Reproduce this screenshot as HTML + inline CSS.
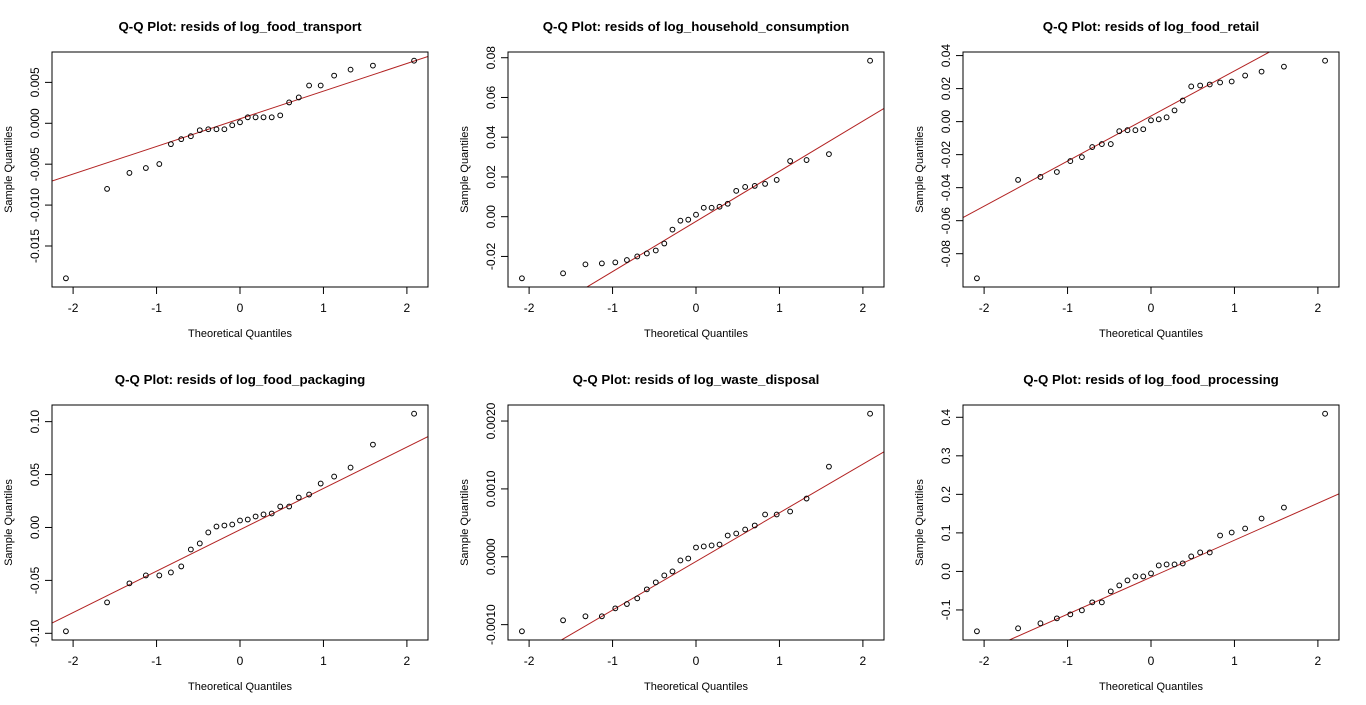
<!DOCTYPE html>
<html><head><meta charset="utf-8"><style>
html,body{margin:0;padding:0;background:#fff;}
svg{display:block;font-family:"Liberation Sans",Arial,sans-serif;}
</style></head><body>
<svg id="chart" width="1366" height="705" viewBox="0 0 1366 705" xmlns="http://www.w3.org/2000/svg"></svg>
<script>
const theoreticalQuantiles = [-2.086,-1.593,-1.325,-1.128,-0.967,-0.828,-0.704,-0.589,-0.482,-0.380,-0.282,-0.187,-0.093,0,0.093,0.187,0.282,0.380,0.482,0.589,0.704,0.828,0.967,1.128,1.325,1.593,2.086];
const xTicks = [-2,-1,0,1,2];
const panelTitles = ["Q-Q Plot: resids of log_food_transport","Q-Q Plot: resids of log_household_consumption","Q-Q Plot: resids of log_food_retail","Q-Q Plot: resids of log_food_packaging","Q-Q Plot: resids of log_waste_disposal","Q-Q Plot: resids of log_food_processing"];
const sampleTransport = [-0.01895,-0.00802,-0.00607,-0.00547,-0.00498,-0.00255,-0.00194,-0.00158,-0.00085,-0.00073,-0.00073,-0.00073,-0.00024,0.00012,0.00073,0.00073,0.00073,0.00073,0.00097,0.00255,0.00316,0.00462,0.00462,0.00583,0.00656,0.00705,0.00765];
const sampleHousehold = [-0.031,-0.0285,-0.024,-0.0235,-0.023,-0.0218,-0.020,-0.0185,-0.017,-0.0135,-0.0065,-0.002,-0.0015,0.001,0.0045,0.0045,0.005,0.0065,0.013,0.015,0.0155,0.0165,0.0185,0.028,0.0285,0.0315,0.0785];
const sampleRetail = [-0.0949,-0.0353,-0.0335,-0.0305,-0.0239,-0.0215,-0.0154,-0.0136,-0.0136,-0.0058,-0.0052,-0.0052,-0.0046,0.0008,0.0014,0.0026,0.0068,0.0128,0.0213,0.0219,0.0225,0.0237,0.0243,0.0279,0.0303,0.0333,0.0369];
const samplePackaging = [-0.0981,-0.0708,-0.0528,-0.0453,-0.0453,-0.0425,-0.0368,-0.0208,-0.0151,-0.0047,0.0009,0.0019,0.0028,0.0066,0.0075,0.0104,0.0123,0.0132,0.0198,0.0198,0.0283,0.0311,0.0415,0.0481,0.0566,0.0783,0.1075];
const sampleWaste = [-0.001098,-0.000936,-0.000877,-0.000877,-0.00076,-0.000696,-0.000613,-0.00048,-0.000377,-0.000275,-0.000216,-0.000054,-0.000025,0.000137,0.000152,0.000167,0.000181,0.000314,0.000343,0.000402,0.000461,0.000623,0.000623,0.000667,0.000858,0.001328,0.002108];
const sampleProcessing = [-0.1554,-0.1477,-0.1347,-0.1218,-0.1114,-0.101,-0.0803,-0.0803,-0.0518,-0.0363,-0.0233,-0.013,-0.013,-0.0052,0.0155,0.0181,0.0181,0.0207,0.0389,0.0492,0.0492,0.0933,0.101,0.1114,0.1373,0.1658,0.4093];
const lineIntercepts = [0.00055,-0.00238,0.0034,-0.0022,-0.0000692,-0.015];
const lineSlopes = [0.00338,0.02525,0.0273,0.0391,0.000717,0.096];
const yTicks1 = [-0.015,-0.010,-0.005,0.000,0.005];
const yTickLabels1 = ["-0.015","-0.010","-0.005","0.000","0.005"];
const yTicks2 = [-0.02,0,0.02,0.04,0.06,0.08];
const yTickLabels2 = ["-0.02","0.00","0.02","0.04","0.06","0.08"];
const yTicks3 = [-0.08,-0.06,-0.04,-0.02,0,0.02,0.04];
const yTickLabels3 = ["-0.08","-0.06","-0.04","-0.02","0.00","0.02","0.04"];
const yTicks4 = [-0.10,-0.05,0,0.05,0.10];
const yTickLabels4 = ["-0.10","-0.05","0.00","0.05","0.10"];
const yTicks5 = [-0.001,0,0.001,0.002];
const yTickLabels5 = ["-0.0010","0.0000","0.0010","0.0020"];
const yTicks6 = [-0.1,0,0.1,0.2,0.3,0.4];
const yTickLabels6 = ["-0.1","0.0","0.1","0.2","0.3","0.4"];

const samples=[sampleTransport,sampleHousehold,sampleRetail,samplePackaging,sampleWaste,sampleProcessing];
const yTickSets=[yTicks1,yTicks2,yTicks3,yTicks4,yTicks5,yTicks6];
const yLabelSets=[yTickLabels1,yTickLabels2,yTickLabels3,yTickLabels4,yTickLabels5,yTickLabels6];
const NS="http://www.w3.org/2000/svg";
const svg=document.getElementById('chart');
function mk(tag,attrs,parent){const e=document.createElementNS(NS,tag);for(const k in attrs)e.setAttribute(k,attrs[k]);parent.appendChild(e);return e;}
const colX=[52,508,963], rowY=[52,405], W=376, H=235;
for(let p=0;p<6;p++){
  const L=colX[p%3], T=rowY[Math.floor(p/3)], R=L+W, B=T+H;
  const g=mk('g',{},svg);
  
  
  const xs=theoreticalQuantiles, ys=samples[p];
  const xmin=Math.min(...xs),xmax=Math.max(...xs),ymin=Math.min(...ys),ymax=Math.max(...ys);
  const xe=(xmax-xmin)*0.04, ye=(ymax-ymin)*0.04;
  const x0=xmin-xe,x1=xmax+xe,y0=ymin-ye,y1=ymax+ye;
  const sx=v=>L+(v-x0)/(x1-x0)*W, sy=v=>B-(v-y0)/(y1-y0)*H;
  const t=mk('text',{x:L+W/2,y:T-21,'text-anchor':'middle','font-size':'13.3','font-weight':'bold',fill:'#000'},g);
  t.textContent=panelTitles[p];
  
  
  // reference line clipped
  const cid='clip'+p;
  const cp=mk('clipPath',{id:cid},g); mk('rect',{x:L,y:T,width:W,height:H},cp);
  const ln=mk('line',{x1:sx(x0),y1:sy(lineIntercepts[p]+lineSlopes[p]*x0),x2:sx(x1),y2:sy(lineIntercepts[p]+lineSlopes[p]*x1),stroke:'#b22222','stroke-width':'1','clip-path':'url(#'+cid+')'},g);
  
  
  for(let i=0;i<xs.length;i++){
    const c=mk('circle',{cx:sx(xs[i]),cy:sy(ys[i]),r:2.4,fill:'none',stroke:'#000','stroke-width':'1'},g);
    
    
  }
  const box=mk('rect',{x:L,y:T,width:W,height:H,fill:'none',stroke:'#000','stroke-width':'1'},g);
  
  
  // x axis
  mk('line',{x1:sx(xTicks[0]),y1:B,x2:sx(xTicks[xTicks.length-1]),y2:B,stroke:'#000'},g);
  xTicks.forEach(v=>{
    mk('line',{x1:sx(v),y1:B,x2:sx(v),y2:B+7,stroke:'#000'},g);
    const tl=mk('text',{x:sx(v),y:B+25,'text-anchor':'middle','font-size':'12',fill:'#000'},g);
    tl.textContent=String(v);
    
    
  });
  const xt=mk('text',{x:L+W/2,y:B+50,'text-anchor':'middle','font-size':'11',fill:'#000'},g);
  xt.textContent='Theoretical Quantiles';
  
  
  // y axis
  const yt=yTickSets[p], yl=yLabelSets[p];
  mk('line',{x1:L,y1:sy(yt[0]),x2:L,y2:sy(yt[yt.length-1]),stroke:'#000'},g);
  yt.forEach((v,i)=>{
    mk('line',{x1:L-7,y1:sy(v),x2:L,y2:sy(v),stroke:'#000'},g);
    const tx=L-13, ty=sy(v);
    const tl=mk('text',{x:tx,y:ty,'text-anchor':'middle','font-size':'12',fill:'#000',transform:'rotate(-90 '+tx+' '+ty+')'},g);
    tl.textContent=yl[i];
    
    
  });
  const ax=L-40, ay=T+H/2;
  const ya=mk('text',{x:ax,y:ay,'text-anchor':'middle','font-size':'11',fill:'#000',transform:'rotate(-90 '+ax+' '+ay+')'},g);
  ya.textContent='Sample Quantiles';
  
  
}
</script>
</body></html>
